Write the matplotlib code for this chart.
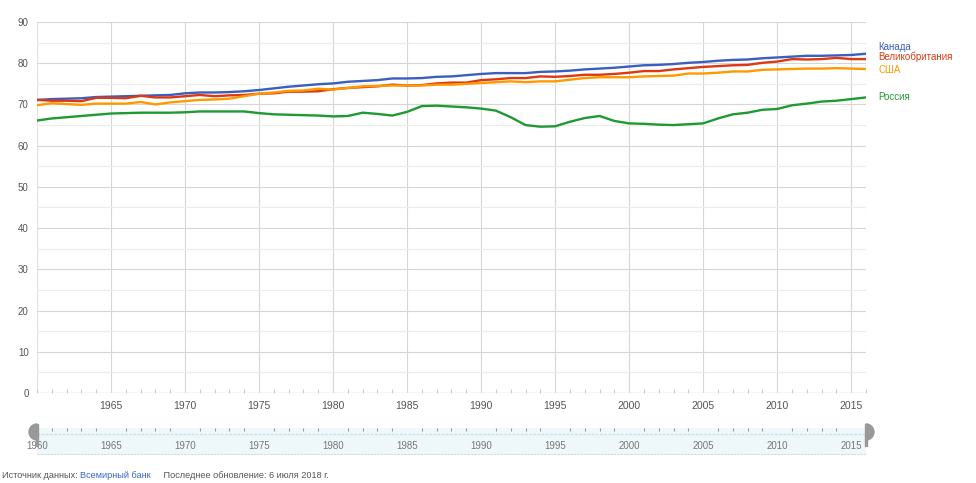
#!/usr/bin/env python
"""
Life expectancy at birth, 1960-2016 (World Bank), Google public data style.
"""

import matplotlib
matplotlib.use("Agg")
import matplotlib.pyplot as plt
from matplotlib.patches import Wedge, Rectangle

plt.rcParams["font.family"] = ["Liberation Sans", "DejaVu Sans"]

years = list(range(1960, 2017))

canada = [71.1, 71.3, 71.4, 71.5, 71.8, 71.9, 72.0, 72.1, 72.2, 72.3,
          72.7, 72.9, 72.9, 73.0, 73.2, 73.5, 73.9, 74.3, 74.6, 74.9,
          75.1, 75.5, 75.7, 75.9, 76.3, 76.3, 76.4, 76.7, 76.8, 77.1,
          77.4, 77.6, 77.6, 77.6, 77.9, 78.0, 78.2, 78.5, 78.7, 78.9,
          79.2, 79.5, 79.6, 79.8, 80.1, 80.3, 80.6, 80.8, 80.9, 81.2,
          81.4, 81.6, 81.8, 81.8, 81.9, 82.0, 82.3]

uk = [71.1, 70.9, 70.9, 70.8, 71.6, 71.6, 71.5, 72.1, 71.7, 71.7,
      72.0, 72.3, 72.0, 72.2, 72.3, 72.6, 72.7, 73.1, 73.1, 73.2,
      73.7, 74.0, 74.2, 74.4, 74.8, 74.6, 74.7, 75.1, 75.3, 75.3,
      75.9, 76.1, 76.4, 76.4, 76.8, 76.7, 76.9, 77.2, 77.2, 77.4,
      77.7, 78.1, 78.1, 78.5, 78.8, 79.1, 79.3, 79.5, 79.6, 80.1,
      80.4, 81.0, 80.9, 81.0, 81.3, 81.0, 81.0]

usa = [69.8, 70.3, 70.1, 69.9, 70.2, 70.2, 70.2, 70.6, 70.0, 70.5,
       70.8, 71.1, 71.2, 71.4, 72.0, 72.6, 72.9, 73.3, 73.4, 73.8,
       73.6, 74.0, 74.4, 74.5, 74.6, 74.6, 74.6, 74.8, 74.8, 75.0,
       75.2, 75.4, 75.6, 75.4, 75.6, 75.6, 76.0, 76.4, 76.6, 76.6,
       76.6, 76.8, 76.9, 77.0, 77.5, 77.5, 77.7, 78.0, 78.0, 78.4,
       78.5, 78.6, 78.7, 78.7, 78.8, 78.7, 78.6]

russia = [66.1, 66.6, 66.9, 67.2, 67.5, 67.8, 67.9, 68.0, 68.0, 68.0,
          68.1, 68.3, 68.3, 68.3, 68.3, 67.9, 67.6, 67.5, 67.4, 67.3,
          67.1, 67.2, 68.0, 67.7, 67.3, 68.2, 69.6, 69.7, 69.5, 69.3,
          69.0, 68.5, 66.9, 65.0, 64.6, 64.7, 65.8, 66.7, 67.2, 66.0,
          65.4, 65.3, 65.1, 65.0, 65.2, 65.4, 66.6, 67.6, 68.0, 68.7,
          68.9, 69.8, 70.2, 70.7, 70.9, 71.3, 71.7]

series_names = ["Канада", "Великобритания", "США", "Россия"]
series_colors = ["#3b5fc0", "#dc3912", "#ff9900", "#1e9a32"]
series_values = [canada, uk, usa, russia]
label_offsets = [(9, 5), (9, 1.5), (9, -1), (9, 0)]  # points

major_years = list(range(1965, 2016, 5))
slider_years = list(range(1960, 2016, 5))
y_ticks = list(range(0, 91, 10))

footer_parts = [("Источник данных: ", "#555555"),
                ("Всемирный банк", "#3366cc"),
                ("     Последнее обновление: 6 июля 2018 г.", "#555555")]

fig = plt.figure(figsize=(9.76, 4.83), dpi=100)

# main chart
ax = fig.add_axes([37 / 976, 1 - 393 / 483, 829 / 976, 371 / 483])
ax.set_xlim(1960, 2016)
ax.set_ylim(0, 90)
for s in ax.spines.values():
    s.set_visible(False)

ax.set_yticks(y_ticks)
ax.set_yticks(range(5, 90, 10), minor=True)
ax.set_xticks(major_years)
ax.set_xticks(years, minor=True)
ax.grid(True, which="major", axis="y", color="#d6d6d6", linewidth=0.8)
ax.grid(True, which="minor", axis="y", color="#ececec", linewidth=0.8)
ax.grid(True, which="major", axis="x", color="#d6d6d6", linewidth=0.8)
for xv in [1960, 2016]:
    ax.axvline(xv, color="#e0e0e0", linewidth=0.8, zorder=0)
ax.axhline(0, color="#cccccc", linewidth=0.9, zorder=1)

ax.tick_params(axis="y", which="both", length=0, labelsize=7, labelcolor="#555555", pad=6)
ax.tick_params(axis="x", which="major", length=0, labelsize=7.5, labelcolor="#555555", pad=6)
ax.tick_params(axis="x", which="minor", direction="in", length=3, color="#cccccc", width=0.8)

for name, col, vals, off in zip(series_names, series_colors, series_values, label_offsets):
    ax.plot(years, vals, color=col, linewidth=1.7, solid_capstyle="round", zorder=3)
    ax.annotate(name, xy=(years[-1], vals[-1]), xytext=off, textcoords="offset points",
                color=col, fontsize=7, va="center", ha="left", annotation_clip=False)

# range slider
sl = fig.add_axes([37 / 976, 1 - 455 / 483, 829 / 976, 27 / 483])
sl.set_xlim(1960, 2016)
sl.set_ylim(0, 1)
sl.set_facecolor("#eef8fb")
for s in sl.spines.values():
    s.set_visible(False)
sl.axhline(0.78, color="#cfe3ea", linewidth=1.0, linestyle=(0, (2, 1)))
sl.axhline(0.02, color="#d8d8d8", linewidth=0.8, linestyle=(0, (2, 1)))
sl.set_yticks([])
sl.set_xticks(years, minor=True)
sl.set_xticks(slider_years)
sl.set_xticklabels([str(y) for y in slider_years])
sl.tick_params(axis="x", which="major", direction="in", length=0, pad=-10,
               labelsize=7, labelcolor="#777777")
sl.tick_params(axis="x", which="minor", direction="in", length=2, color="#999999",
               width=0.8, top=True, bottom=False)

# slider handles
for xpix, t1, t2 in [(37, 90, 270), (866, 270, 450)]:
    fig.patches.append(Wedge((xpix, 483 - 432), 8, t1, t2, color="#999999",
                             transform=None, zorder=5))
    fig.patches.append(Rectangle((xpix - 1, 483 - 446), 2, 22, color="#999999",
                                 transform=None, zorder=5))

# footer, pieces chained one after another
fig.canvas.draw()
renderer = fig.canvas.get_renderer()
xpos = 2
for txt, col in footer_parts:
    t = fig.text(xpos / 976, 1 - 476 / 483, txt, fontsize=6.6, color=col,
                 va="center", ha="left")
    xpos += t.get_window_extent(renderer).width

fig.savefig("out.png", dpi=100)
